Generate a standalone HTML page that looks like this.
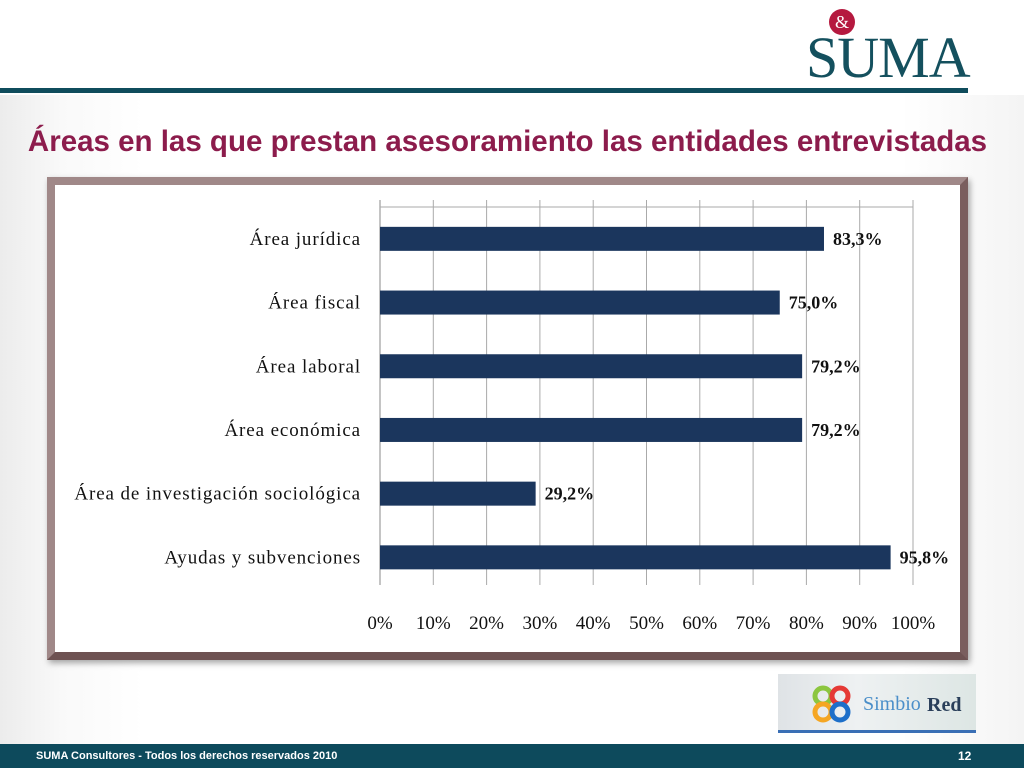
<!DOCTYPE html>
<html><head><meta charset="utf-8"><style>
body{margin:0;width:1024px;height:768px;position:relative;overflow:hidden;background:#fff;font-family:"Liberation Sans",sans-serif}
#bg{position:absolute;left:0;top:95px;width:1024px;height:650px;background:linear-gradient(90deg,#ececec 0%,#f9f9f9 6%,#fff 14%,#fff 88%,#f4f4f4 100%)}
#topline{position:absolute;left:0;top:88px;width:968px;height:5px;background:#0f4c5c}
#logo{position:absolute;left:806px;top:24px;font-family:"Liberation Serif",serif;font-size:58px;color:#14505e;letter-spacing:-1px}
#amp{position:absolute;left:829px;top:9px;width:26px;height:26px;border-radius:50%;background:#b5193f;color:#fff;font-family:"Liberation Serif",serif;font-size:18px;text-align:center;line-height:26px}
#title{position:absolute;left:0;width:1015px;text-align:center;top:125px;font-size:29.5px;font-weight:bold;color:#8c1c4c}
#panel{position:absolute;left:47px;top:177px;width:905px;height:467px;background:#fff;border:8px solid #8c7474;box-shadow:2px 3px 6px rgba(0,0,0,.35);border-color:#a08888 #7a5e5e #6e5252 #a08888}
#footer{position:absolute;left:0;top:744px;width:1024px;height:24px;background:#0d4a5c;color:#fff;font-weight:bold;font-size:11px}
#simbio{position:absolute;left:778px;top:674px;width:198px;height:56px;background:linear-gradient(90deg,#dfe3e6,#eef1f2 40%,#dde6e4);border-bottom:3px solid #3a6fb5}
svg text{font-family:"Liberation Serif",serif}
</style></head><body>
<div id="bg"></div>
<div id="topline"></div>
<div id="logo">SUMA</div>
<div id="amp">&amp;</div>
<div id="title">Áreas en las que prestan asesoramiento las entidades entrevistadas</div>
<div id="panel"></div>
<svg id="chart" width="1024" height="768" style="position:absolute;left:0;top:0"></svg>
<div id="simbio">
<svg width="198" height="56"><circle cx="45" cy="22" r="8" fill="none" stroke="#8cc63f" stroke-width="5"/><circle cx="62" cy="22" r="8" fill="none" stroke="#e53935" stroke-width="5"/><circle cx="45" cy="38" r="8" fill="none" stroke="#f5a623" stroke-width="5"/><circle cx="62" cy="38" r="8" fill="none" stroke="#1e6fc9" stroke-width="5"/>
<text x="85" y="36" font-family="Liberation Sans" font-size="20" fill="#4a8ec9">Simbio</text><text x="149" y="37" font-family="Liberation Sans" font-size="20" font-weight="bold" fill="#2a3f5a">Red</text></svg></div>
<div id="footer">
<span style="position:absolute;left:36px;top:6px">SUMA Consultores - Todos los derechos reservados 2010</span>
<span style="position:absolute;left:958px;top:5px;font-size:12px">12</span></div>
<script>
const categories=["Área jurídica","Área fiscal","Área laboral","Área económica","Área de investigación sociológica","Ayudas y subvenciones"];
const values=[83.3,75.0,79.2,79.2,29.2,95.8];
const ticks=[0,10,20,30,40,50,60,70,80,90,100];
const svg=document.getElementById('chart');const NS='http://www.w3.org/2000/svg';
const x0=380,x1=913,yTop=200,yBot=585,bandTop=207,band=63.7,barH=24;
const xs=v=>x0+(x1-x0)*v/100;
const yc=i=>bandTop+band*(i+0.5);
function mk(t,a){const e=document.createElementNS(NS,t);for(const k in a)e.setAttribute(k,a[k]);svg.appendChild(e);return e;}
ticks.forEach(t=>{const g=mk('line',{x1:xs(t),x2:xs(t),y1:yTop,y2:yBot,stroke:t===0?'#888':'#aaa','stroke-width':1});


const l=mk('text',{x:xs(t),y:629,'text-anchor':'middle','font-size':19,fill:'#111'});l.textContent=t+'%';

});
mk('line',{x1:x0,x2:x1,y1:bandTop,y2:bandTop,stroke:'#aaa'});
categories.forEach((c,i)=>{const y=yc(i);
const b=mk('rect',{x:x0,y:y-barH/2,width:xs(values[i])-x0,height:barH,fill:'#1b365d'});


const l=mk('text',{x:361,y:y+6,'text-anchor':'end','font-size':19,'letter-spacing':'0.9',fill:'#111'});l.textContent=c;


const v=mk('text',{x:xs(values[i])+9,y:y+6,'font-size':18,'font-weight':'bold',fill:'#111'});v.textContent=values[i].toFixed(1).replace('.',',')+'%';

});
</script>
</body></html>
